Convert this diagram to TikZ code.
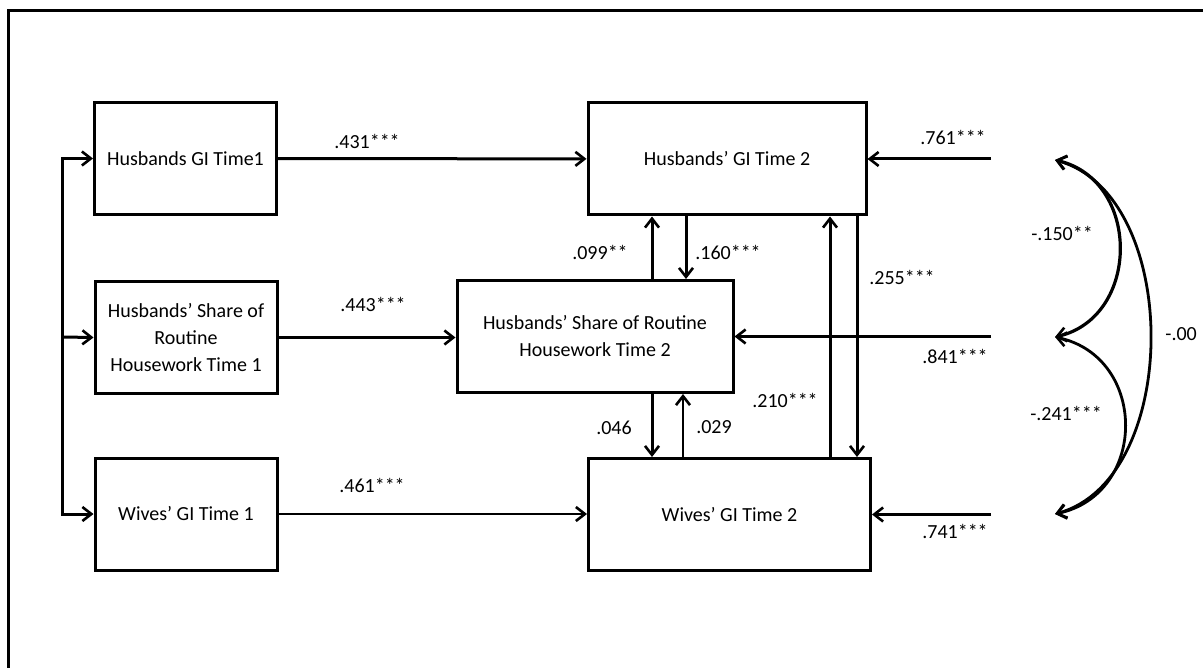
\documentclass[tikz,border=0pt]{standalone}
\usepackage{fontspec}
\setmainfont{Carlito}
\usetikzlibrary{arrows.meta}

\begin{document}
\begin{tikzpicture}[x=0.5pt,y=-0.5pt,
  >={Straight Barb[length=4.5pt,width=7pt,line width=1.3pt]},
  var/.style={draw,line width=1.5pt,minimum height=56pt,align=center,
    inner sep=2pt,font=\fontsize{10}{13.5}\selectfont},
  path/.style={->,line width=1.5pt},
  thinpath/.style={->,line width=1pt},
  coef/.style={inner sep=1pt,font=\fontsize{10}{12}\selectfont}]
  \clip (0,0) rectangle (1203,668);

  % frame
  \draw[line width=1.5pt] (8,680) -- (8,11) -- (1220,11);

  % time 1
  \node[var,minimum width=91pt] (hgi1) at (185.5,158.5) {Husbands GI Time1};
  \node[var,minimum width=91pt] (hs1) at (186,337.5)
    {Husbands’ Share of\\Routine\\Housework Time 1};
  \node[var,minimum width=91pt] (wgi1) at (186,514) {Wives’ GI Time 1};

  % time 2
  \node[var,minimum width=139pt] (hgi2) at (727,159) {Husbands’ GI Time 2};
  \node[var,minimum width=138pt] (hs2) at (595,336.5)
    {Husbands’ Share of Routine\\Housework Time 2};
  \node[var,minimum width=141pt] (wgi2) at (729.5,514.5) {Wives’ GI Time 2};

  % correlated time 1 measures
  \coordinate (fork) at (62,337);
  \draw[path] (hgi1.west -| fork) |- (wgi1.west);
  \draw[path] (wgi1.west -| fork) |- (hgi1.west);
  \draw[path] (fork) -- (hs1.west);

  % stability paths
  \draw[path] (hgi1) -- (hgi2);
  \draw[path] (hs1.east) -- (hs1.east -| hs2.west);
  \draw[thinpath] (wgi1.east) -- (wgi1.east -| wgi2.west);
  \node[coef] (a1) at (367,141) {.431***};
  \node[coef] (a2) at (373,304) {.443***};
  \node[coef] (a3) at (372,485) {.461***};

  % cross-lagged paths
  \draw[path] ([xshift=28.5pt]hs2.north) -- ([xshift=28.5pt]hs2.north |- hgi2.south);
  \draw[path] ([xshift=45.5pt]hs2.north |- hgi2.south) -- ([xshift=45.5pt]hs2.north);
  \draw[path] ([xshift=28.5pt]hs2.south) -- ([xshift=28.5pt]hs2.south |- wgi2.north);
  \draw[thinpath] ([xshift=44pt]hs2.south |- wgi2.north) -- ([xshift=44pt]hs2.south);
  \draw[path] ([xshift=50.25pt]wgi2.north) -- ([xshift=50.25pt]wgi2.north |- hgi2.south);
  \draw[path] ([xshift=63.75pt]wgi2.north |- hgi2.south) -- ([xshift=63.75pt]wgi2.north);

  \node[coef] (b1) at (600,252) {.099**};
  \node[coef] (b2) at (728,252) {.160***};
  \node[coef] (b3) at (614,428) {.046};
  \node[coef] (b4) at (714,427) {.029};
  \node[coef] (b5) at (785,400) {.210***};
  \node[coef] (b6) at (902,277) {.255***};

  % residuals
  \coordinate (resid) at (991,337);
  \draw[path] (hgi2.east -| resid) -- (hgi2.east);
  \draw[path] (hs2.east -| resid) -- (hs2.east);
  \draw[path] (wgi2.east -| resid) -- (wgi2.east);
  \node[coef] (r1) at (953,137) {.761***};
  \node[coef] (r2) at (955,356) {.841***};
  \node[coef] (r3) at (955,531) {.741***};

  % residual covariances
  \coordinate (c1) at (1055,160);
  \coordinate (c2) at (1055,337);
  \coordinate (c3) at (1055,514);
  \draw[<->,line width=1.6pt] (c1) .. controls (1141,180) and (1141,317) .. (c2);
  \draw[<->,line width=1.4pt] (c2) .. controls (1148,357) and (1148,494) .. (c3);
  \draw[<->,line width=1.4pt] (c1) .. controls (1182,195) and (1182,479) .. (c3);
  \node[coef] (k1) at (1062,233) {-.150**};
  \node[coef] (k2) at (1066,413) {-.241***};
  \node[coef,anchor=west] (k3) at (1163,334) {-.00};
\end{tikzpicture}
\end{document}
